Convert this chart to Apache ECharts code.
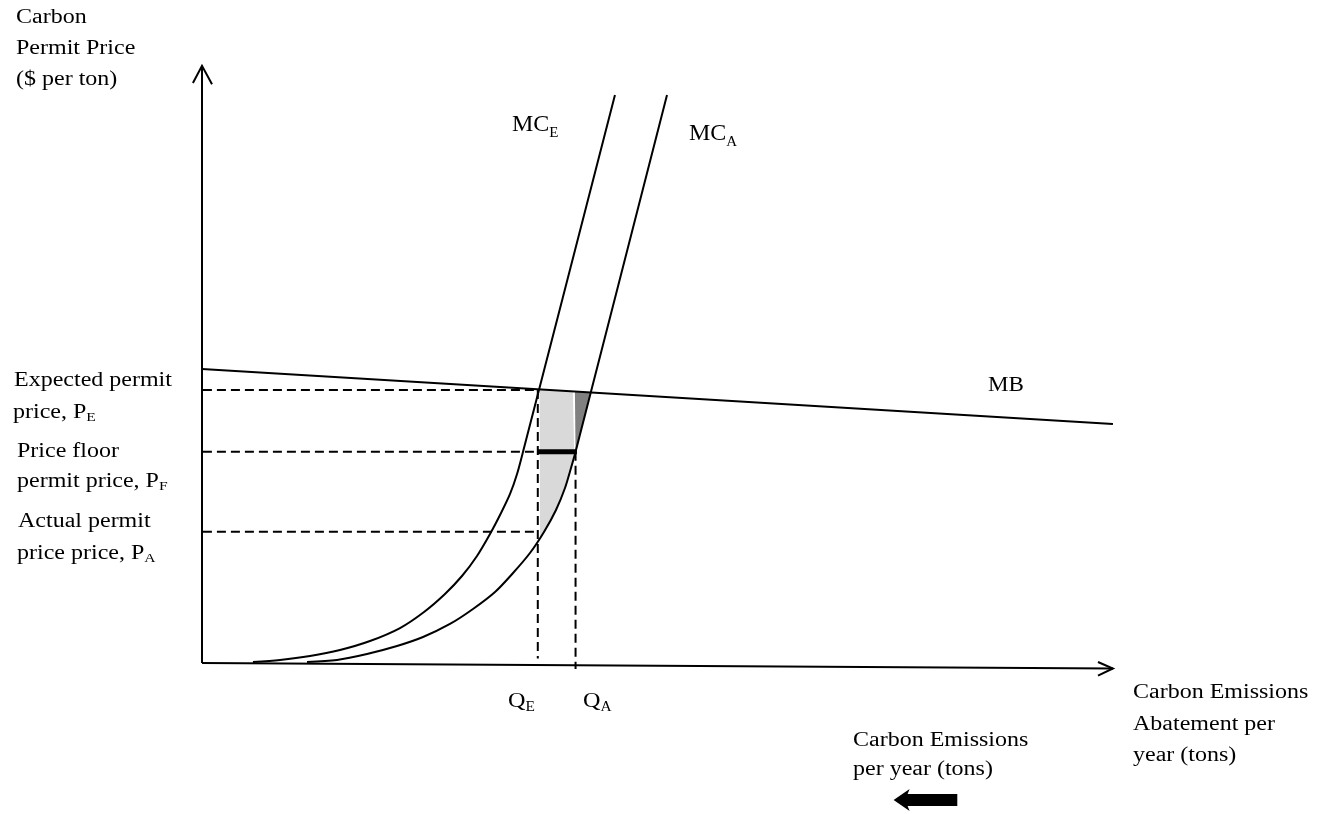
<!DOCTYPE html>
<html><head><meta charset="utf-8">
<script src="https://cdn.jsdelivr.net/npm/echarts@6/dist/echarts.min.js"></script>
<style>html,body{margin:0;padding:0;background:#fff}#c{width:1325px;height:814px}</style>
</head><body><div id="c"></div>
<script>
// ---- data (quantity units 0-100, price units 0-100) ----
const mcE = [[5.6,0],[8.57,0.34],[11.87,1.01],[15.16,2.03],[18.46,3.55],[21.76,5.74],[24.4,8.45],[26.7,11.49],[28.57,14.53],[30.22,17.91],[31.65,21.62],[32.86,25.17],[33.85,28.38],[34.62,31.76],[35.27,35.47],[45.38,95.78]];
const mcA = [[11.54,0],[14.84,0.34],[18.13,1.35],[21.43,2.7],[24.29,4.22],[27.25,6.42],[29.78,8.95],[32.2,11.82],[34.18,15.03],[36.04,18.41],[37.58,21.96],[38.9,25.68],[39.89,29.39],[40.55,32.77],[41.1,35.81],[51.1,95.78]];
const mb = [[0,49.5],[100.1,40.2]];
const QE = 36.9, QA = 41.05, PE = 45.95, PF = 35.5, PA = 22.0;
const lightArea = [[37.1,46.05],[40.75,45.71],[40.9,35.5],[40.55,32.77],[39.89,29.39],[38.9,25.68],[37.58,21.96],[37.15,20.95]];
const darkArea = [[40.98,45.69],[42.67,45.53],[41.05,35.5]];
const xAxisLine = [[0,-0.17],[100.1,-1.1]];
const xArrow = [[98.46,0],[100.1,-1.1],[98.46,-2.3]];
const yAxisLine = [[0,-0.17],[0,100.7]];
const yArrow = [[-1.0,97.8],[0,100.7],[1.1,97.6]];
const moveArrow = [[76.0, 83.0, -23.3]]; // tip q, tail q, p

// ---- labels ----
const FONT = '"Liberation Serif","Times New Roman",serif';
const labels = [
  {x:16, b:24, t:'Carbon', F:20, s:1.2},
  {x:16, b:55, t:'Permit Price', F:20, s:1.2},
  {x:16, b:86, t:'($ per ton)', F:20, s:1.2},
  {x:14, b:387, t:'Expected permit', F:20, s:1.2},
  {x:13, b:419, t:'price, P', F:20, s:1.2, sub:'E', subF:13, drop:3},
  {x:17, b:458, t:'Price floor', F:20, s:1.2},
  {x:17, b:488, t:'permit price, P', F:20, s:1.2, sub:'F', subF:13, drop:3},
  {x:18, b:528, t:'Actual permit', F:20, s:1.2},
  {x:17, b:560, t:'price price, P', F:20, s:1.2, sub:'A', subF:13, drop:3},
  {x:512, b:133, t:'MC', F:24, s:1.0, sub:'E', subF:15, drop:5},
  {x:689, b:142, t:'MC', F:24, s:1.0, sub:'A', subF:15, drop:5},
  {x:988, b:393, t:'MB', F:22, s:1.05},
  {x:508, b:709, t:'Q', F:22, s:1.1, sub:'E', subF:14, drop:3},
  {x:583, b:709, t:'Q', F:22, s:1.1, sub:'A', subF:14, drop:3},
  {x:1133, b:699, t:'Carbon Emissions', F:20, s:1.2},
  {x:1133, b:731, t:'Abatement per', F:20, s:1.2},
  {x:1133, b:762, t:'year (tons)', F:20, s:1.2},
  {x:853, b:747, t:'Carbon Emissions', F:20, s:1.2},
  {x:853, b:776, t:'per year (tons)', F:20, s:1.2}
];

const ctx = document.createElement('canvas').getContext('2d');
function tw(text, F){ ctx.font = F + 'px ' + FONT; return ctx.measureText(text).width; }
const K = 0.3375;
const graphics = [];
labels.forEach(l => {
  graphics.push({type:'text', x:l.x, y:l.b - K*l.F, scaleX:l.s, silent:true,
    style:{text:l.t, font:l.F+'px '+FONT, fill:'#000', textAlign:'left', textVerticalAlign:'middle', verticalAlign:'middle'}});
  if (l.sub) {
    const sx = l.x + tw(l.t, l.F) * l.s;
    const sb = l.b + l.drop;
    graphics.push({type:'text', x:sx, y:sb - K*l.subF, scaleX:l.s, silent:true,
      style:{text:l.sub, font:l.subF+'px '+FONT, fill:'#000', textAlign:'left', textVerticalAlign:'middle', verticalAlign:'middle'}});
  }
});

function lineS(data, opts) {
  return Object.assign({type:'line', data:data, symbol:'none', clip:false, silent:true, animation:false,
    lineStyle:{color:'#000', width:2}}, opts || {});
}
function polyS(points, fill) {
  return {type:'custom', data:[[0,0]], clip:false, silent:true, animation:false, z:1,
    renderItem:(p, api) => ({type:'polygon', shape:{points: points.map(pt => api.coord(pt))}, style:{fill:fill}})};
}
function polylineS(points) {
  return {type:'custom', data:[[0,0]], clip:false, silent:true, animation:false, z:3,
    renderItem:(p, api) => ({type:'polyline', shape:{points: points.map(pt => api.coord(pt))},
      style:{stroke:'#000', lineWidth:2, fill:null}})};
}

const dash = {color:'#000', width:2, type:[9,5]};
const chart = echarts.init(document.getElementById('c'), null, {renderer:'canvas'});
chart.setOption({
  animation:false,
  backgroundColor:'#fff',
  grid:{left:202, top:70, width:910, height:592, containLabel:false},
  xAxis:{type:'value', min:0, max:100, show:false},
  yAxis:{type:'value', min:0, max:100, show:false},
  graphic: graphics,
  series:[
    polyS(lightArea, '#d9d9d9'),
    polyS(darkArea, '#808080'),
    lineS([[0.1,PE],[QE,PE]], {lineStyle:dash, z:2}),
    lineS([[0.1,PF],[QE,PF]], {lineStyle:dash, z:2}),
    lineS([[0.1,PA],[QE,PA]], {lineStyle:dash, z:2}),
    lineS([[QE,PE],[QE,0.6]], {lineStyle:dash, z:2}),
    lineS([[QA,PF],[QA,-1.2]], {lineStyle:dash, z:2}),
    lineS(mcE, {smooth:0.3, z:3}),
    lineS(mcA, {smooth:0.3, z:3}),
    lineS(mb, {z:3}),
    lineS([[QE,PF],[41.2,PF]], {lineStyle:{color:'#000', width:5}, z:4}),
    polylineS(xAxisLine),
    polylineS(xArrow),
    polylineS(yAxisLine),
    polylineS(yArrow),
    {type:'custom', data:moveArrow, clip:false, silent:true, animation:false, z:5,
      renderItem:(p, api) => {
        const tip = api.coord([api.value(0), api.value(2)]);
        const tail = api.coord([api.value(1), api.value(2)]);
        const hl = 16, hh = 11, sh = 6;
        const y = tip[1];
        return {type:'polygon', shape:{points:[
          [tip[0], y], [tip[0]+hl, y-hh], [tip[0]+hl-2, y-sh], [tail[0], y-sh],
          [tail[0], y+sh], [tip[0]+hl-2, y+sh], [tip[0]+hl, y+hh]
        ]}, style:{fill:'#000'}};
      }}
  ]
});
</script></body></html>
